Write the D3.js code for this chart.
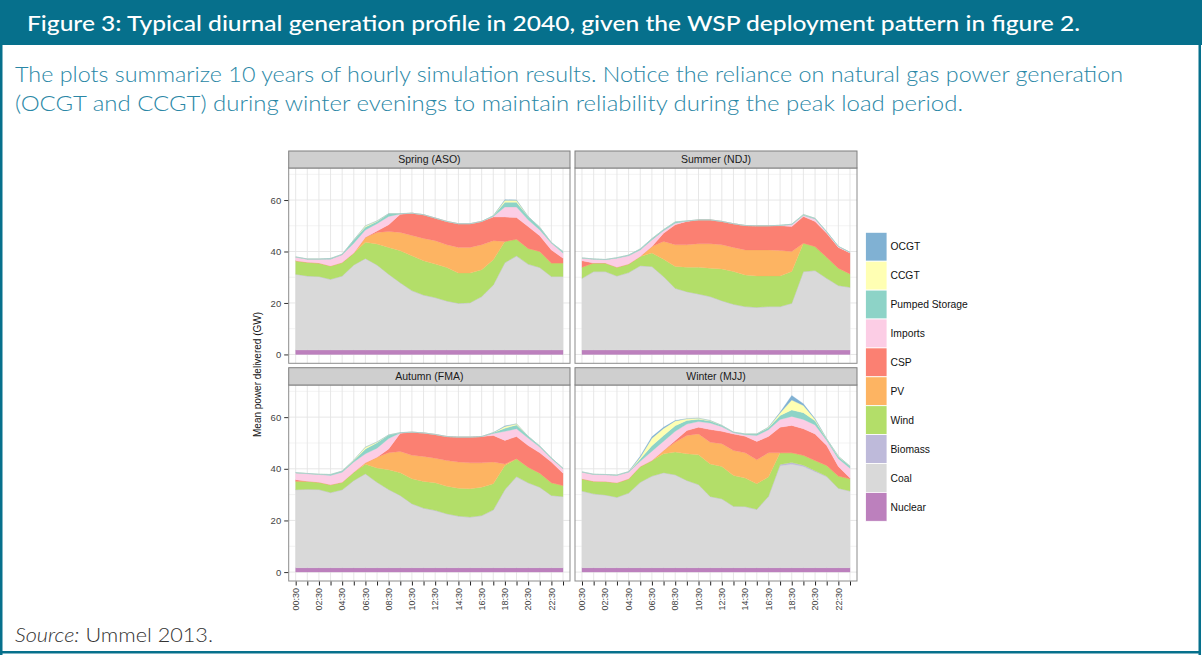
<!DOCTYPE html>
<html><head><meta charset="utf-8">
<script src="https://cdn.jsdelivr.net/npm/d3@7"></script>
<style>
html,body{margin:0;padding:0;background:#fff;}
svg{display:block;}
</style></head>
<body>
<svg id="c" width="1202" height="656"></svg>
<script>
// ---------------- DATA ----------------
const hours = ["00:30","01:30","02:30","03:30","04:30","05:30","06:30","07:30","08:30","09:30","10:30","11:30",
               "12:30","13:30","14:30","15:30","16:30","17:30","18:30","19:30","20:30","21:30","22:30","23:30"];
const tickLabels = ["00:30","02:30","04:30","06:30","08:30","10:30","12:30","14:30","16:30","18:30","20:30","22:30"];
const sources = ["Nuclear","Coal","Biomass","Wind","PV","CSP","Imports","Pumped Storage","CCGT","OCGT"];
const legendOrder = ["OCGT","CCGT","Pumped Storage","Imports","CSP","PV","Wind","Biomass","Coal","Nuclear"];
const seasons = ["Spring (ASO)","Summer (NDJ)","Autumn (FMA)","Winter (MJJ)"];
const yTicks = [0,20,40,60];

const spring = {
  "Nuclear":        [1.7,1.7,1.7,1.7,1.7,1.7,1.7,1.7,1.7,1.7,1.7,1.7,1.7,1.7,1.7,1.7,1.7,1.7,1.7,1.7,1.7,1.7,1.7,1.7],
  "Coal":           [29.4,28.7,28.5,27.4,28.7,33.0,35.5,33.0,29.4,26.1,23.0,21.3,20.3,19.0,18.1,18.3,20.7,25.2,33.9,36.5,33.3,32.0,28.5,28.5],
  "Biomass":        [0.1,0.1,0.1,0.1,0.1,0.1,0.1,0.1,0.1,0.1,0.1,0.1,0.1,0.1,0.1,0.1,0.1,0.1,0.1,0.1,0.1,0.1,0.1,0.1],
  "Wind":           [5.2,5.3,5.2,5.2,5.2,4.6,6.3,8.1,10.4,12.4,13.5,13.3,13.0,13.0,11.7,11.5,10.4,9.8,8.2,6.5,6.1,6.2,5.2,5.2],
  "PV":             [0,0,0,0,0,0,1.9,4.5,6.2,7.1,7.9,8.7,9.1,8.8,10.0,10.0,9.7,7.4,0,0,0,0,0,0],
  "CSP":            [0,0,0,0,0,0,0,0.6,2.6,7.1,8.7,9.2,8.8,9.1,9.2,9.2,9.1,9.2,9.5,8.4,8.5,6.1,5.1,1.9],
  "Imports":        [1.4,1.2,1.5,2.6,3.0,3.8,2.9,2.8,3.2,0.1,0,0,0,0,0,0,0,0.2,3.9,4.1,2.6,2.3,2.6,2.0],
  "Pumped Storage": [0.1,0.1,0.1,0.3,0.2,1.3,1.1,0.9,1.1,0.1,0,0,0,0,0,0,0,0.3,1.8,1.8,1.3,1.0,0.3,0.6],
  "CCGT":           [0,0,0,0,0,0,0.5,0.2,0,0,0,0,0,0,0,0,0,0,0.8,0.8,0,0,0,0],
  "OCGT":           [0,0,0,0,0,0,0,0,0,0,0,0,0,0,0,0,0,0,0.2,0.1,0,0,0,0]
};
const summer = {
  "Nuclear":        [1.7,1.7,1.7,1.7,1.7,1.7,1.7,1.7,1.7,1.7,1.7,1.7,1.7,1.7,1.7,1.7,1.7,1.7,1.7,1.7,1.7,1.7,1.7,1.7],
  "Coal":           [27.8,30.4,30.4,28.7,30.0,32.7,32.4,28.5,23.9,22.6,21.7,20.7,19.1,17.7,16.8,16.5,16.8,16.8,18.1,30.4,30.8,27.8,25.0,24.3],
  "Biomass":        [0.1,0.1,0.1,0.1,0.1,0.1,0.1,0.1,0.1,0.1,0.1,0.1,0.1,0.1,0.1,0.1,0.1,0.1,0.1,0.1,0.1,0.1,0.1,0.1],
  "Wind":           [4.3,3.3,3.3,3.4,3.3,3.6,5.2,6.7,8.5,9.5,10.4,11.0,12.3,12.7,12.3,12.2,11.9,11.9,12.3,11.0,9.3,8.2,6.7,5.2],
  "PV":             [0,0,0,0,0,0,2.5,6.9,8.4,8.7,9.1,9.5,9.4,9.4,9.7,10.1,10.1,9.9,7.8,0,0,0,0,0],
  "CSP":            [2.5,0,0,0,0,0,0,3.2,7.8,9.1,9.3,9.3,9.1,9.2,9.5,9.4,9.4,9.6,9.7,10.4,9.8,9.3,8.1,8.1],
  "Imports":        [1.0,1.5,1.3,3.5,3.2,2.5,2.6,1.0,0.6,0.1,0,0,0,0,0,0,0,0.1,0.7,0.4,0.9,0.4,0.3,0.2],
  "Pumped Storage": [0.1,0.1,0.1,0.2,0.3,0.4,0.5,0.4,0.5,0.1,0,0,0,0,0,0,0,0.1,0.2,0.3,0.3,0.2,0.1,0.1],
  "CCGT":           [0,0,0,0,0,0,0,0,0,0,0,0,0,0,0,0,0,0,0,0.1,0,0,0,0],
  "OCGT":           [0,0,0,0,0,0,0,0,0,0,0,0,0,0,0,0,0,0,0,0,0,0,0,0]
};
const autumn = {
  "Nuclear":        [1.7,1.7,1.7,1.7,1.7,1.7,1.7,1.7,1.7,1.7,1.7,1.7,1.7,1.7,1.7,1.7,1.7,1.7,1.7,1.7,1.7,1.7,1.7,1.7],
  "Coal":           [30.1,30.3,30.2,29.0,30.1,33.7,36.3,33.0,30.2,27.9,24.7,23.0,22.1,20.8,19.9,19.5,20.1,22.3,30.2,35.2,32.8,31.1,27.9,27.5],
  "Biomass":        [0.1,0.1,0.1,0.1,0.1,0.1,0.1,0.1,0.1,0.1,0.1,0.1,0.1,0.1,0.1,0.1,0.1,0.1,0.1,0.1,0.1,0.1,0.1,0.1],
  "Wind":           [3.3,3.1,2.8,3.0,2.9,3.2,3.7,5.5,7.6,8.8,9.6,10.3,10.7,10.6,10.8,11.0,11.0,10.1,9.3,6.9,6.0,5.4,4.9,4.2],
  "PV":             [0,0,0,0,0,0,0.5,4.2,6.6,8.2,9.1,9.7,9.5,10.0,10.1,10.0,9.4,8.4,0.6,0,0,0,0,0],
  "CSP":            [0.6,0,0,0,0,0,0,0,1.5,7.1,9.0,9.1,9.2,9.3,9.7,10.0,10.2,10.3,9.1,8.6,8.4,7.9,8.0,4.8],
  "Imports":        [2.6,2.9,3.0,3.6,3.9,3.9,3.5,3.5,4.0,0.1,0,0,0,0,0,0,0,0.8,3.5,3.0,2.9,2.2,1.3,1.7],
  "Pumped Storage": [0.1,0.1,0.1,0.4,0.4,0.6,1.9,2.1,1.4,0.1,0,0,0,0,0,0,0,0.3,1.2,1.5,0.7,0.4,0.3,0.2],
  "CCGT":           [0,0,0,0,0,0.2,0.7,0.3,0,0,0,0,0,0,0,0,0,0,0.7,0.4,0,0,0,0],
  "OCGT":           [0,0,0,0,0,0,0,0,0,0,0,0,0,0,0,0,0,0,0.2,0,0,0,0,0]
};
const winter = {
  "Nuclear":        [1.7,1.7,1.7,1.7,1.7,1.7,1.7,1.7,1.7,1.7,1.7,1.7,1.7,1.7,1.7,1.7,1.7,1.7,1.7,1.7,1.7,1.7,1.7,1.7],
  "Coal":           [29.6,28.5,28.1,27.2,28.8,33.0,35.4,36.7,35.9,33.7,32.1,27.5,26.6,23.7,23.6,22.5,27.5,39.5,40.1,39.2,37.2,35.2,30.7,29.6],
  "Biomass":        [0.1,0.1,0.1,0.1,0.1,0.1,0.1,0.1,0.1,0.1,0.1,0.1,0.1,0.1,0.1,0.1,0.2,0.5,0.6,0.5,0.3,0.2,0.1,0.1],
  "Wind":           [4.7,4.9,5.2,5.6,5.5,6.1,6.0,7.3,8.8,10.3,11.5,12.6,12.5,11.9,11.0,9.9,7.4,4.5,3.8,3.8,4.0,4.2,4.7,4.7],
  "PV":             [0,0,0,0,0,0,0,1.3,3.8,7.1,8.1,8.4,8.8,9.7,9.8,9.3,9.4,0,0,0,0,0,0,0],
  "CSP":            [0,0,0,0,0,0,0,0,0.7,1.9,2.6,4.9,4.8,6.4,6.4,7.1,6.3,9.9,10.6,10.3,10.3,7.7,3.7,0.3],
  "Imports":        [2.6,2.6,2.6,2.8,2.6,2.0,3.6,3.6,3.5,2.5,2.2,2.5,1.8,0.5,0.6,2.3,2.6,3.0,3.5,3.6,3.5,2.0,3.0,3.8],
  "Pumped Storage": [0.1,0.1,0.1,0.2,0.2,0.9,2.1,2.2,2.2,1.4,0.9,0.8,0.5,0.2,0.3,0.6,0.8,1.5,2.5,2.6,1.6,0.5,0.8,0.8],
  "CCGT":           [0,0,0,0,0,0.7,2.9,2.7,1.8,0.7,0.4,0.2,0,0,0,0,0.2,1.0,3.8,2.8,0.6,0.1,0.2,0],
  "OCGT":           [0,0,0,0,0,0.4,0.6,0.5,0.2,0,0,0,0,0,0,0,0,0.3,1.8,0.7,0.2,0,0,0]
};
const seasonData = [spring, summer, autumn, winter];

// ---------------- STYLE ----------------
const palette = {
  "OCGT":"#80b1d3","CCGT":"#ffffb3","Pumped Storage":"#8dd3c7","Imports":"#fccde5","CSP":"#fb8072",
  "PV":"#fdb462","Wind":"#b3de69","Biomass":"#bebada","Coal":"#d9d9d9","Nuclear":"#bc80bd"
};
const teal = "#06708c";
const chartFont = "'Liberation Sans', Arial, Helvetica, sans-serif";
const textFont = "Lato, 'Open Sans', sans-serif";

const svg = d3.select("#c");

// frame
svg.append("rect").attr("x",0).attr("y",0).attr("width",1202).attr("height",45).attr("fill",teal);
svg.append("rect").attr("x",0).attr("y",44).attr("width",2.5).attr("height",611).attr("fill",teal);
svg.append("rect").attr("x",1198.5).attr("y",44).attr("width",2.5).attr("height",611).attr("fill",teal);
svg.append("rect").attr("x",0).attr("y",651).attr("width",1201).attr("height",2.5).attr("fill",teal);

svg.append("text").attr("x",27).attr("y",31).attr("fill","#fff")
  .attr("font-family",textFont).attr("font-size",21).attr("font-weight",500)
  .attr("textLength",1053).attr("lengthAdjust","spacingAndGlyphs")
  .text("Figure 3: Typical diurnal generation profile in 2040, given the WSP deployment pattern in figure 2.");

const sub = [
  "The plots summarize 10 years of hourly simulation results. Notice the reliance on natural gas power generation",
  "(OCGT and CCGT) during winter evenings to maintain reliability during the peak load period."
];
const subLen = [1108, 948];
sub.forEach((s,i)=>{
  svg.append("text").attr("x",15).attr("y",82+i*29).attr("fill","#2a87a6")
    .attr("font-family",textFont).attr("font-size",21).attr("font-weight",300)
    .attr("textLength",subLen[i]).attr("lengthAdjust","spacingAndGlyphs").text(s);
});

const src = svg.append("text").attr("x",15).attr("y",642).attr("fill","#333")
  .attr("font-family",textFont).attr("font-size",19).attr("font-weight",300)
  .attr("textLength",198).attr("lengthAdjust","spacingAndGlyphs");
src.append("tspan").attr("font-style","italic").text("Source:");
src.append("tspan").text(" Ummel 2013.");

// ---------------- PANELS ----------------
const colX = [[288.7,570],[575,857]];
const rowY = [{strip:151, top:168, bottom:363.3},{strip:367.7, top:385, bottom:581}];
const yDomain = [-3.45, 72.45];

const stack = d3.stack().keys(sources);

seasonData.forEach((sd, si)=>{
  const col = si % 2, row = Math.floor(si/2);
  const [x0,x1] = colX[col];
  const {strip, top, bottom} = rowY[row];
  const x = d3.scaleLinear().domain([-0.6, hours.length-1+0.6]).range([x0,x1]);
  const y = d3.scaleLinear().domain(yDomain).range([bottom, top]);
  const g = svg.append("g");

  // background + grid
  g.append("rect").attr("x",x0).attr("y",top).attr("width",x1-x0).attr("height",bottom-top).attr("fill","#fff");
  [10,30,50,70].forEach(v=>{
    g.append("line").attr("x1",x0).attr("x2",x1).attr("y1",y(v)).attr("y2",y(v))
      .attr("stroke","#f3f3f3").attr("stroke-width",1);
  });
  yTicks.forEach(v=>{
    g.append("line").attr("x1",x0).attr("x2",x1).attr("y1",y(v)).attr("y2",y(v))
      .attr("stroke","#e4e4e4").attr("stroke-width",0.9);
  });
  hours.forEach((h,i)=>{
    g.append("line").attr("x1",x(i)).attr("x2",x(i)).attr("y1",top).attr("y2",bottom)
      .attr("stroke","#e4e4e4").attr("stroke-width",0.9);
  });

  // stacked areas
  const rows = hours.map((h,i)=>{ const o={i}; sources.forEach(k=>o[k]=sd[k][i]); return o; });
  const series = stack(rows);
  const area = d3.area().x(d=>x(d.data.i)).y0(d=>y(d[0])).y1(d=>y(d[1])).curve(d3.curveLinear);
  g.selectAll("path.layer").data(series).join("path").attr("class","layer")
    .attr("d",area).attr("fill",d=>palette[d.key]).attr("stroke",d=>palette[d.key]).attr("stroke-width",0.3);

  // border
  g.append("rect").attr("x",x0).attr("y",top).attr("width",x1-x0).attr("height",bottom-top)
    .attr("fill","none").attr("stroke","#8c8c8c").attr("stroke-width",1);

  // strip
  g.append("rect").attr("x",x0).attr("y",strip).attr("width",x1-x0).attr("height",top-strip)
    .attr("fill","#cfcfcf").attr("stroke","#7f7f7f").attr("stroke-width",1);
  g.append("text").attr("x",(x0+x1)/2).attr("y",(strip+top)/2+3.8).attr("text-anchor","middle")
    .attr("font-family",chartFont).attr("font-size",10.5).attr("fill","#1a1a1a").text(seasons[si]);

  // y axis on left column
  if (col===0){
    const ay = d3.axisLeft(y).tickValues(yTicks).tickSize(4).tickPadding(3);
    const ag = svg.append("g").attr("transform",`translate(${x0-0.5},0)`).call(ay);
    ag.select(".domain").remove();
    ag.selectAll("line").attr("stroke","#333");
    ag.selectAll("text").attr("font-family",chartFont).attr("font-size",9.5).attr("fill","#444");
  }
  // x axis on bottom row
  if (row===1){
    const ax = d3.axisBottom(x).tickValues(d3.range(hours.length)).tickSize(4).tickFormat(()=> "");
    const axg = svg.append("g").attr("transform",`translate(0,${bottom+0.5})`).call(ax);
    axg.select(".domain").remove();
    axg.selectAll("line").attr("stroke","#222");
    tickLabels.forEach(lab=>{
      const i = hours.indexOf(lab);
      svg.append("text").attr("transform",`translate(${x(i)+3.2},${bottom+7}) rotate(-90)`)
        .attr("text-anchor","end").attr("font-family",chartFont).attr("font-size",9)
        .attr("fill","#444").text(lab);
    });
  }
});

// y title
svg.append("text").attr("transform",`translate(261,${(168+581)/2}) rotate(-90)`).attr("text-anchor","middle")
  .attr("font-family",chartFont).attr("font-size",10).attr("fill","#111").text("Mean power delivered (GW)");

// legend
const lx = 865.5, ly = 232.3, kh = 28.9, kw = 21.5;
legendOrder.forEach((k,i)=>{
  svg.append("rect").attr("x",lx).attr("y",ly+i*kh).attr("width",kw).attr("height",kh)
    .attr("fill",palette[k]).attr("stroke","#fff").attr("stroke-width",0.8);
  svg.append("text").attr("x",lx+kw+3.5).attr("y",ly+i*kh+kh/2+3.7)
    .attr("font-family",chartFont).attr("font-size",10.3).attr("fill","#111").text(k);
});
</script>
</body></html>
